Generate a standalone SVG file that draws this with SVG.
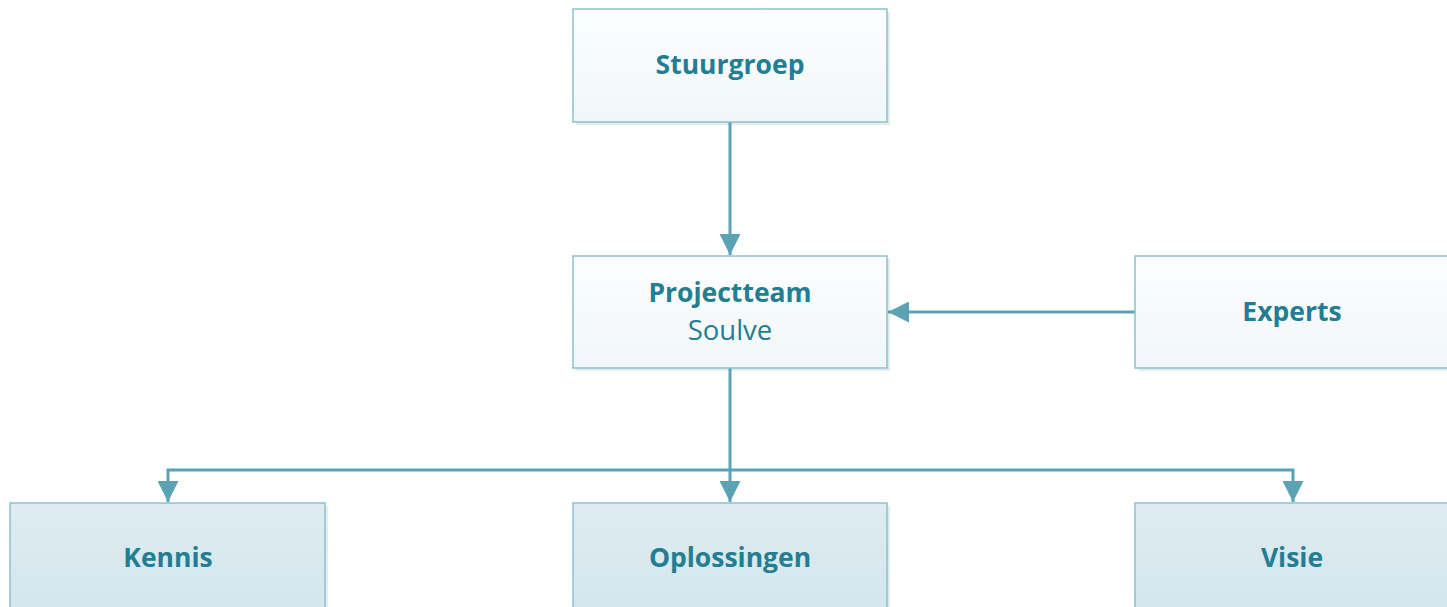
<svg xmlns="http://www.w3.org/2000/svg" width="1447" height="607" viewBox="0 0 1447 607">
<style>
.box{stroke:#8cc1cd;stroke-width:1.5}
.top{fill:url(#gTop)}
.bot{fill:url(#gBot)}
.sh{fill:#e3edf0}
.t{font-family:"Open Sans","Noto Sans",sans-serif;font-weight:bold;font-size:26.5px;fill:#237d93;text-anchor:middle}
.s{font-family:"Open Sans","Noto Sans",sans-serif;font-size:27.5px;fill:#237d93;text-anchor:middle}
.c{stroke:#5ba2b4;stroke-width:3;fill:none}
</style>
<defs>
<linearGradient id="gTop" x1="0" y1="0" x2="0" y2="1"><stop offset="0" stop-color="#fcfdfe"/><stop offset="1" stop-color="#f1f7f9"/></linearGradient>
<linearGradient id="gBot" x1="0" y1="0" x2="0" y2="1"><stop offset="0" stop-color="#deecf1"/><stop offset="1" stop-color="#d3e6ec"/></linearGradient>
<marker id="ar" viewBox="0 0 10 10" refX="10" refY="5" markerWidth="7" markerHeight="7" markerUnits="strokeWidth" orient="auto"><path d="M0,0 L10,5 L0,10 z" fill="#5ba2b4"/></marker>
</defs>
<rect width="1447" height="607" fill="#ffffff"/>
<g id="stuurgroep">
<rect class="sh" x="576" y="12" width="314" height="113"/>
<rect class="box top" x="573" y="9" width="314" height="113"/>
<text class="t" x="730" y="74">Stuurgroep</text>
</g>
<g id="projectteam">
<rect class="sh" x="576" y="259" width="314" height="112"/>
<rect class="box top" x="573" y="256" width="314" height="112"/>
<text class="t" x="730" y="302">Projectteam</text>
<text class="s" x="730" y="340">Soulve</text>
</g>
<g id="experts">
<rect class="sh" x="1138" y="259" width="314" height="112"/>
<rect class="box top" x="1135" y="256" width="314" height="112"/>
<text class="t" x="1292" y="321">Experts</text>
</g>
<g id="kennis">
<rect class="sh" x="13" y="506" width="315" height="110"/>
<rect class="box bot" x="10" y="503" width="315" height="110"/>
<text class="t" x="168" y="567">Kennis</text>
</g>
<g id="oplossingen">
<rect class="sh" x="576" y="506" width="314" height="110"/>
<rect class="box bot" x="573" y="503" width="314" height="110"/>
<text class="t" x="730" y="567">Oplossingen</text>
</g>
<g id="visie">
<rect class="sh" x="1138" y="506" width="314" height="110"/>
<rect class="box bot" x="1135" y="503" width="314" height="110"/>
<text class="t" x="1292" y="567">Visie</text>
</g>
<g id="connectors">
<path class="c" d="M730,122.5 V255" marker-end="url(#ar)"/>
<path class="c" d="M1134.5,312 H888" marker-end="url(#ar)"/>
<path class="c" d="M730,368.5 V502" marker-end="url(#ar)"/>
<path class="c" d="M730,470 H168 V502" marker-end="url(#ar)"/>
<path class="c" d="M730,470 H1293 V502" marker-end="url(#ar)"/>
</g>
</svg>
